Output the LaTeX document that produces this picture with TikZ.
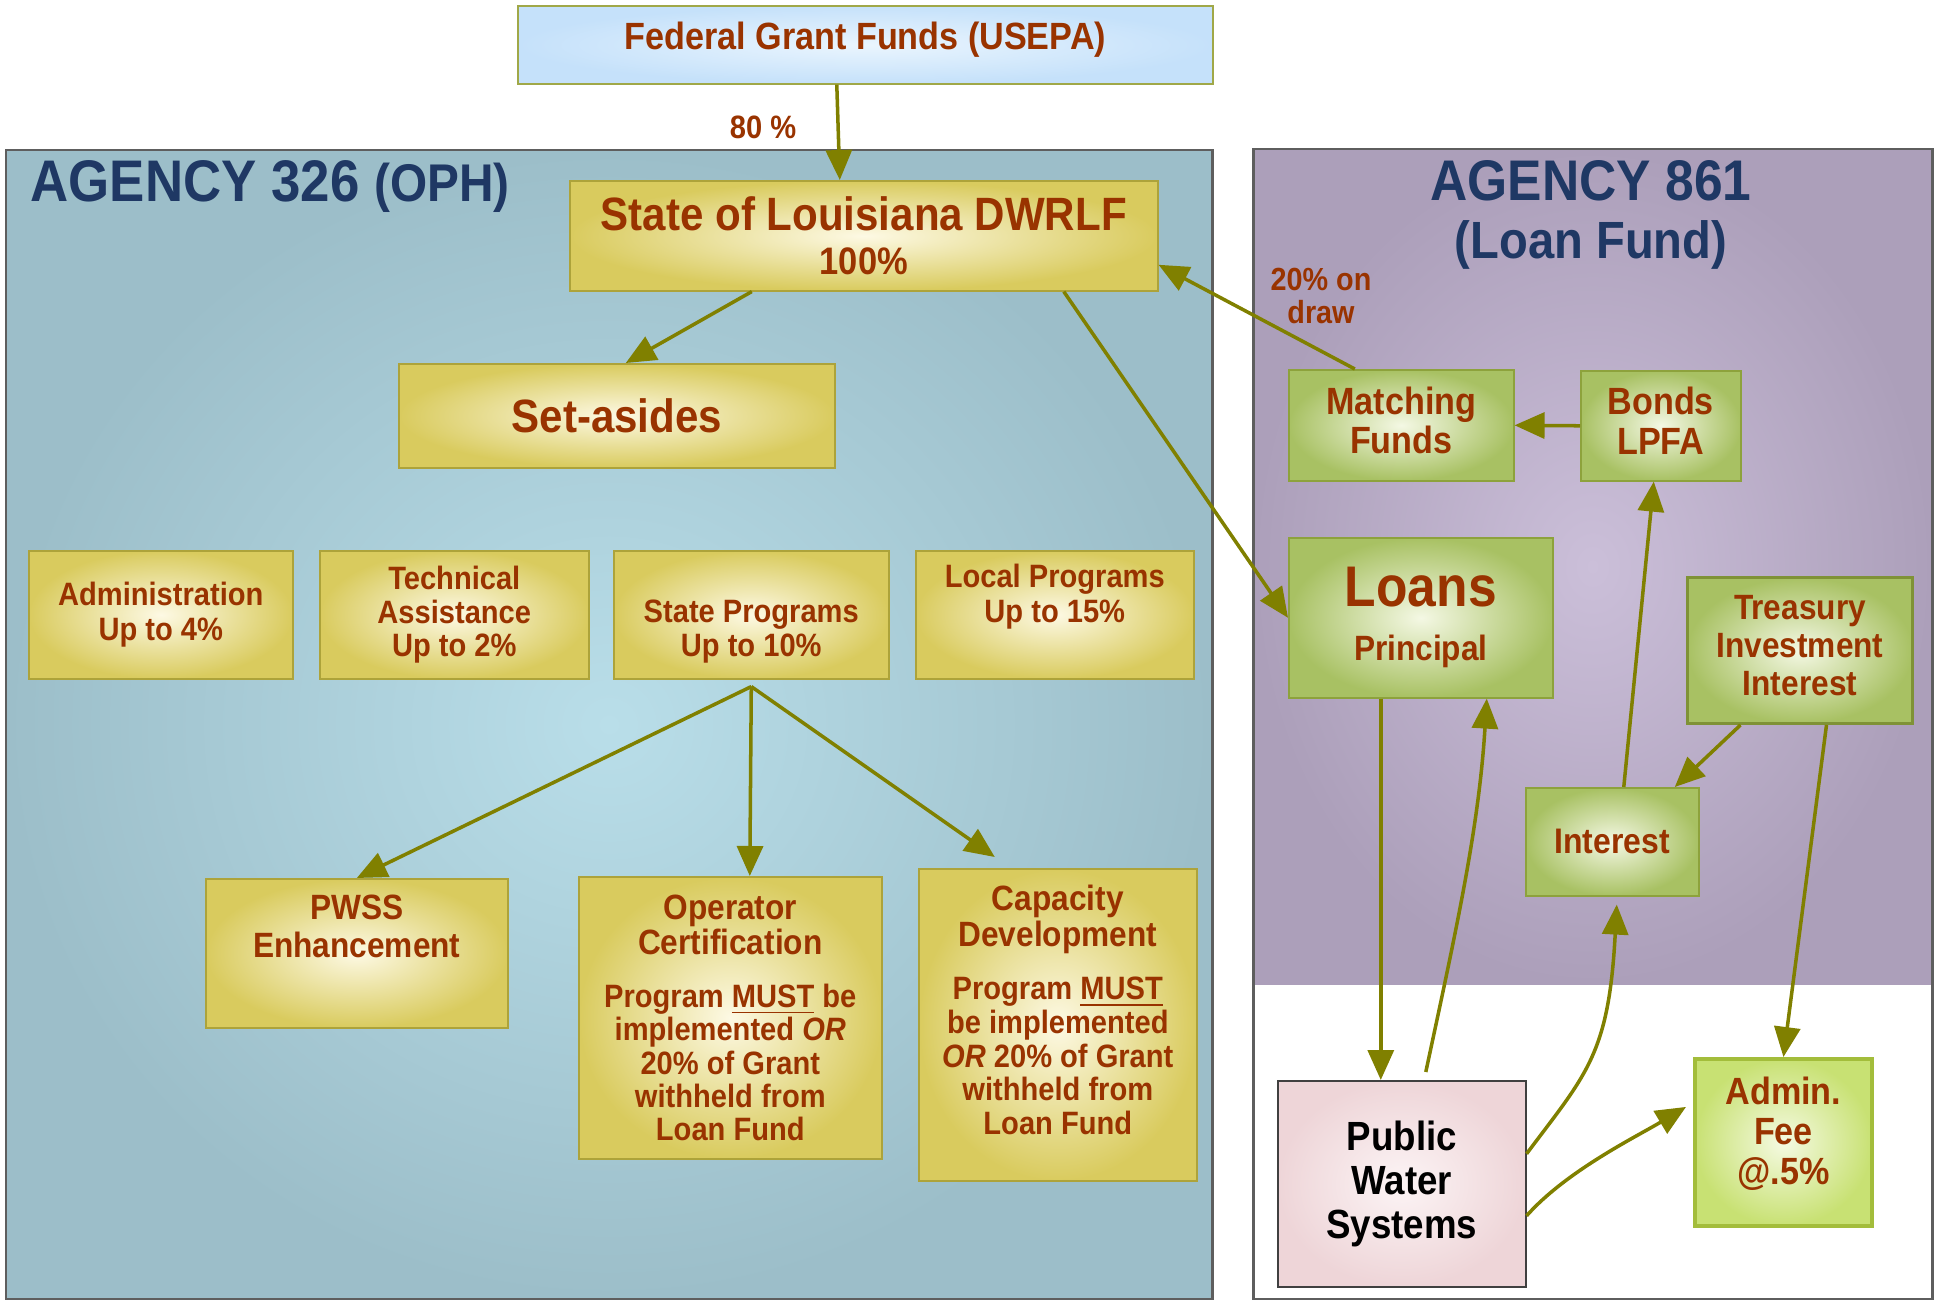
\documentclass[tikz,border=0pt]{standalone}
\usepackage{fontspec}
\setmainfont[FakeStretch=0.9]{Liberation Sans}
\usetikzlibrary{arrows.meta, calc, positioning}
\definecolor{txtRed}{HTML}{993300}
\definecolor{titleBlue}{HTML}{1F3864}
\definecolor{arrowOlive}{HTML}{808000}
\definecolor{goldOut}{HTML}{D9CB5E}
\definecolor{goldIn}{HTML}{FDF9E4}
\definecolor{goldLine}{HTML}{ADA33A}
\definecolor{greenOut}{HTML}{A8C163}
\definecolor{greenIn}{HTML}{F4F8E4}
\definecolor{greenLine}{HTML}{8DA23C}
\definecolor{limeOut}{HTML}{C8E173}
\definecolor{limeIn}{HTML}{F5FAE2}
\definecolor{limeLine}{HTML}{A3BD3B}
\definecolor{skyOut}{HTML}{C5E1FA}
\definecolor{skyIn}{HTML}{EAF5FE}
\definecolor{skyLine}{HTML}{A0A848}
\definecolor{pinkOut}{HTML}{EED5D8}
\definecolor{pinkIn}{HTML}{FCF4F5}
\definecolor{tealOut}{HTML}{9CBEC9}
\definecolor{tealIn}{HTML}{B9DEE9}
\definecolor{plumOut}{HTML}{AC9FBA}
\definecolor{plumIn}{HTML}{CBBFD9}
\definecolor{panelLine}{HTML}{5E5E5E}
\newcommand{\fsz}[2]{\fontsize{#1}{#2}\selectfont\bfseries}
\lineskiplimit=-20pt

\begin{document}
\begin{tikzpicture}[x=0.1mm, y=-0.1mm, >={Triangle[length=3mm, width=2.6mm]},
    wh/.style 2 args={minimum width=#1*0.1mm, minimum height=#2*0.1mm},
    box/.style={draw, line width=0.45pt, inner sep=0pt, anchor=north west, align=center, text=txtRed},
    goldbox/.style={box, draw=goldLine, inner color=goldIn, outer color=goldOut},
    greenbox/.style={box, draw=greenLine, inner color=greenIn, outer color=greenOut},
    boxtext/.style={inner sep=0pt, align=center, text=txtRed},
    title/.style={inner sep=0pt, align=center, text=titleBlue},
    flow/.style={->, color=arrowOlive, line width=1pt}]
    \useasboundingbox (0,0) rectangle (1934,1301);

    % Agency panels
    \shade[inner color=tealIn, outer color=tealOut] (6,150) rectangle (1212,1299);
    \draw[panelLine, line width=0.85pt] (6,150) rectangle (1212,1299);
    \shade[inner color=plumIn, outer color=plumOut] (1253,149) rectangle (1932,984);
    \draw[panelLine, line width=0.85pt] (1253,149) rectangle (1932,1299);

    \node[title, anchor=west] (oph) at (30,187) {{\fsz{16.7}{18}AGENCY 326}\, {\fsz{15.1}{16}(OPH)}};
    \node[title, font=\fsz{14.9}{16.4}] (lf) at (1591,215) {{\fsz{16.3}{17}AGENCY 861}\\(Loan Fund)};

    % Grant and set-asides
    \node[box, draw=skyLine, inner color=skyIn, outer color=skyOut, wh={695}{78}] (fed) at (517,5) {};
    \node[boxtext, font=\fsz{10.8}{12}] (fedtxt) at ([yshift=0.5mm]fed.center) {Federal Grant Funds (USEPA)};
    \node[goldbox, wh={588}{110}, font=\fsz{10.9}{12.6}] (state) at (569,180) {{\fsz{13.3}{14}State of Louisiana DWRLF}\\100\%};
    \node[goldbox, wh={436}{104}, font=\fsz{13.3}{14}] (setas) at (398,363) {Set-asides};

    \node[goldbox, wh={264}{128}, font=\fsz{9.2}{10.1}] (admin) at (28,550) {Administration\\Up to 4\%};
    \node[goldbox, wh={269}{128}, font=\fsz{9.2}{9.6}] (tech) at (319,550) {Technical\\Assistance\\Up to 2\%};
    \node[goldbox, wh={275}{128}] (prog) at (613,550) {};
    \node[boxtext, font=\fsz{9.2}{9.8}] (progtxt) at ([yshift=-1.7mm]prog.center) {State Programs\\Up to 10\%};
    \node[goldbox, wh={278}{128}] (local) at (915,550) {};
    \node[boxtext, font=\fsz{9.2}{9.8}] (localtxt) at ([yshift=1.8mm]local.center) {Local Programs\\Up to 15\%};

    \node[goldbox, wh={302}{149}] (pwss) at (205,878) {};
    \node[boxtext, font=\fsz{10}{10.8}] (pwsstxt) at ([yshift=2.65mm]pwss.center) {PWSS\\Enhancement};
    \node[goldbox, wh={303}{282}, font=\fsz{9.2}{9.5}] (oper) at (578,876)
        {{\fsz{10}{10}Operator}\\[0.6pt]{\fsz{10}{10}Certification}\\[5.5pt]Program \underline{MUST} be\\implemented \textit{OR}\\20\% of Grant\\withheld from\\Loan Fund};
    \node[goldbox, wh={278}{312}] (capac) at (918,868) {};
    \node[boxtext, font=\fsz{9.2}{9.6}] (capactxt) at ([yshift=1.5mm]capac.center)
        {{\fsz{10}{10}Capacity}\\[0.9pt]{\fsz{10}{10}Development}\\[5.4pt]Program \underline{MUST}\\be implemented\\\textit{OR} 20\% of Grant\\withheld from\\Loan Fund};

    % Loan fund side
    \node[greenbox, wh={225}{111}] (match) at (1288,369) {};
    \node[boxtext, font=\fsz{10.8}{11.2}] (matchtxt) at ([yshift=0.5mm]match.center) {Matching\\Funds};
    \node[greenbox, wh={160}{110}] (bonds) at (1580,370) {};
    \node[boxtext, font=\fsz{10.8}{11.2}] (bondstxt) at ([yshift=0.5mm]bonds.center) {Bonds\\LPFA};
    \node[greenbox, wh={264}{160}, font=\fsz{10}{15.4}] (loans) at (1288,537) {{\fsz{16.3}{17}Loans}\\Principal};
    \node[greenbox, line width=0.85pt, draw=greenLine!90!black, wh={225}{146}] (treas) at (1686,576) {};
    \node[boxtext, font=\fsz{10}{10.7}] (treastxt) at ([yshift=0.5mm]treas.center) {Treasury\\Investment\\Interest};
    \node[greenbox, wh={173}{108}, font=\fsz{10.1}{12}] (inter) at (1525,787) {Interest};
    \node[box, draw=black!75, text=black, inner color=pinkIn, outer color=pinkOut, wh={248}{206}, font=\fsz{11.6}{12.6}] (pws) at (1277,1080) {Public\\Water\\Systems};
    \node[box, line width=1.1pt, draw=limeLine, inner color=limeIn, outer color=limeOut, wh={177}{167}] (fee) at (1693,1057) {};
    \node[boxtext, font=\fsz{10.8}{11.4}] (feetxt) at ([yshift=0.9mm]fee.center) {Admin.\\Fee\\@.5\%};

    \node[boxtext, font=\fsz{9.2}{11}] (pct) at (763,127) {80 \%};
    \node[boxtext, font=\fsz{9.1}{9.4}] (draw) at (1321,296) {20\% on\\draw};

    % Flows
    \draw[flow] ([xshift=-2.85mm]fed.south) -- ([xshift=-2.4mm]state.north);
    \draw[flow] ([xshift=-11.2mm]state.south) -- ([xshift=0.9mm]setas.north);
    \coordinate (split) at ([yshift=-0.7mm]prog.south);
    \draw[flow] (split) -- (pwss.north);
    \draw[flow] (split) -- ([xshift=1.95mm]oper.north);
    \draw[flow] (split) -- ([xshift=-6.3mm, yshift=1.1mm]capac.north);

    \draw[flow] ([xshift=-4.65mm]match.north) -- ([yshift=-2.9mm]state.east);
    \draw[flow] (bonds.west) -- (match.east);
    \draw[flow] ([xshift=20mm]state.south) -- (loans.west);
    \draw[flow] ([xshift=-4mm]loans.south) -- ([xshift=-4mm]loans.south |- pws.north);
    \draw[flow] ([xshift=2.4mm, yshift=0.8mm]pws.north) .. controls +(30,-140) and +(-8,130) .. ([xshift=6.6mm]loans.south);
    \draw[flow] ([xshift=1.15mm]inter.north) -- ([xshift=-0.7mm]bonds.south);
    \draw[flow] ([xshift=-5.95mm]treas.south) -- ([xshift=6.25mm]inter.north);
    \draw[flow] ([xshift=2.65mm]treas.south) -- (fee.north);
    \draw[flow] ([yshift=3mm]pws.east) .. controls +(60,-80) and +(-8,150) .. ([xshift=0.45mm, yshift=-0.8mm]inter.south);
    \draw[flow] ([yshift=-3.2mm]pws.east) .. controls +(40,-45) and +(-50,30) .. ([xshift=-0.7mm, yshift=3.55mm]fee.west);
\end{tikzpicture}
\end{document}
